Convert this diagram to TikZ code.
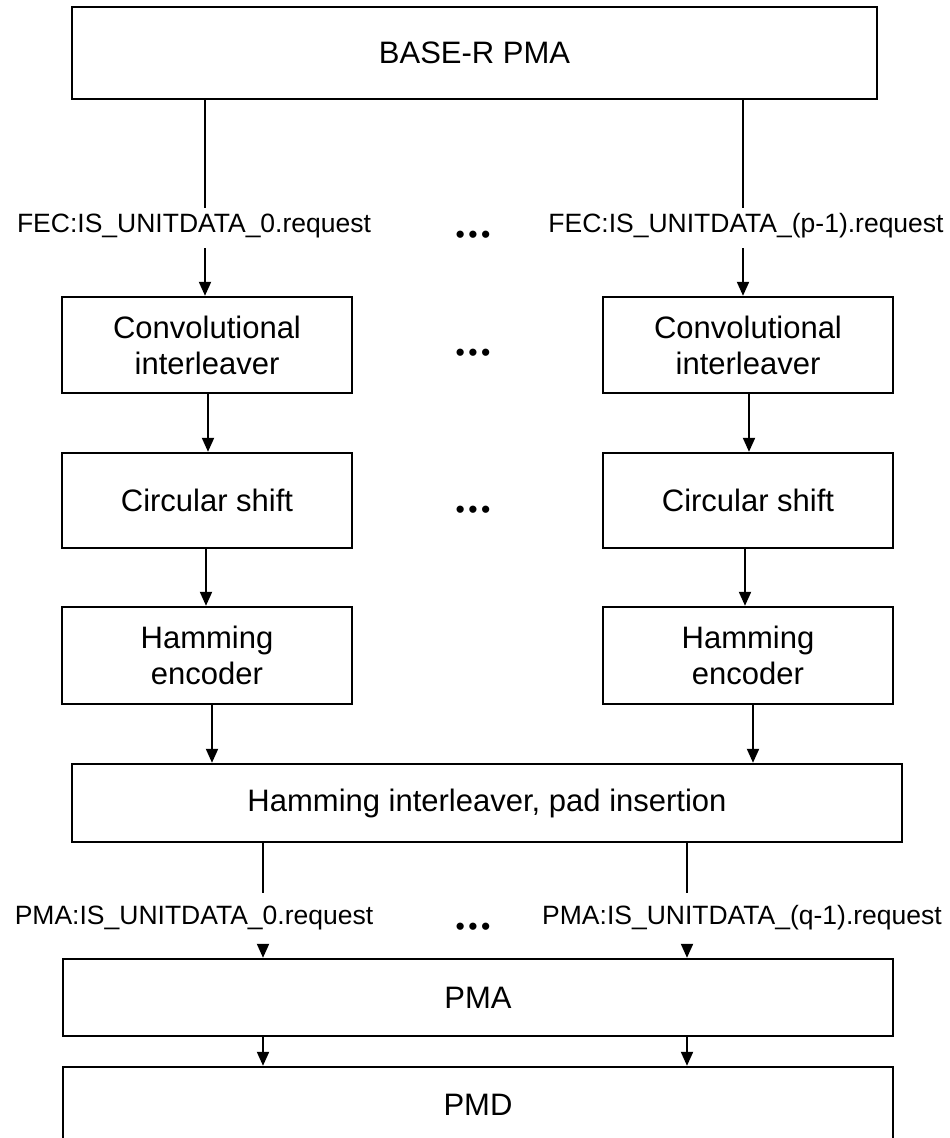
\documentclass[tikz,border=0pt]{standalone}
\usepackage{fontspec}
\setmainfont{Liberation Sans}
\usetikzlibrary{arrows.meta}
\newcommand{\lanedots}{•\hspace{3.4pt}•\hspace{3.4pt}•}
\begin{document}
\begin{tikzpicture}[x=1pt,y=-1pt,
  box/.style={draw, line width=2.4pt, inner sep=0pt, align=center,
    font=\fontsize{31}{36}\selectfont},
  colbox/.style={box, minimum width=290pt},
  lbl/.style={inner sep=0pt, font=\fontsize{26.5}{30}\selectfont},
  dots/.style={inner sep=0pt, anchor=base, font=\fontsize{26.5}{30}\selectfont},
  link/.style={line width=2pt},
  arr/.style={link, -{Triangle[length=14pt,width=12pt]}}]
\useasboundingbox (0,0) rectangle (950,1138);
\clip (0,0) rectangle (950,1138);

% top layer
\node[box, minimum width=805pt, minimum height=92pt] (base) at (474.5,53) {BASE-R PMA};

% service interface labels between the FEC lanes and the BASE-R PMA
\node[lbl] (fec0) at (194,226) {FEC:IS\_UNITDATA\_0.request};
\node[lbl] (fec1) at (746,226) {FEC:IS\_UNITDATA\_(p-1).request};
\node[dots] (d0) at (473,243) {\lanedots};

% per-lane processing chain
\node[colbox, minimum height=96pt] (conv0) at (207,345) {Convolutional\\interleaver};
\node[colbox, minimum height=96pt] (conv1) at (748,345) {Convolutional\\interleaver};
\node[dots] (d1) at (473,361) {\lanedots};

\node[colbox, minimum height=95pt] (circ0) at (207,500.5) {Circular shift};
\node[colbox, minimum height=95pt] (circ1) at (748,500.5) {Circular shift};
\node[dots] (d2) at (473,518) {\lanedots};

\node[colbox, minimum height=97pt] (ham0) at (207,655.5) {Hamming\\encoder};
\node[colbox, minimum height=97pt] (ham1) at (748,655.5) {Hamming\\encoder};

\node[box, minimum width=830pt, minimum height=78pt] (hil) at (487,803) {Hamming interleaver, pad insertion};

% PMA service interface labels
\node[lbl] (pmal0) at (194,918) {PMA:IS\_UNITDATA\_0.request};
\node[lbl] (pmal1) at (742,918) {PMA:IS\_UNITDATA\_(q-1).request};
\node[dots] (d3) at (473,935) {\lanedots};

\node[box, minimum width=830pt, minimum height=77pt] (pma) at (478,997.5) {PMA};
\node[box, minimum width=830pt, minimum height=133pt] (pmd) at (478,1133.5) {};
\node[box, draw=none] (pmdtxt) at (478,1105) {PMD};

% connectors from BASE-R PMA to the lanes
\coordinate (t0) at (205,208);
\coordinate (t1) at (743,208);
\draw[link] (t0 |- base.south) -- (t0);
\draw[link] (t1 |- base.south) -- (t1);
\coordinate (f0) at (205,248);
\coordinate (f1) at (743,248);
\draw[arr] (f0) -- (f0 |- conv0.north);
\draw[arr] (f1) -- (f1 |- conv1.north);

% lane connectors
\coordinate (c0) at ([xshift=1pt]conv0.south);
\coordinate (c1) at ([xshift=1pt]conv1.south);
\coordinate (s0) at ([xshift=-1pt]circ0.south);
\coordinate (s1) at ([xshift=-3pt]circ1.south);
\coordinate (h0) at ([xshift=5pt]ham0.south);
\coordinate (h1) at ([xshift=5pt]ham1.south);
\draw[arr] (c0) -- (c0 |- circ0.north);
\draw[arr] (c1) -- (c1 |- circ1.north);
\draw[arr] (s0) -- (s0 |- ham0.north);
\draw[arr] (s1) -- (s1 |- ham1.north);
\draw[arr] (h0) -- (h0 |- hil.north);
\draw[arr] (h1) -- (h1 |- hil.north);

% connectors to PMA and PMD
\coordinate (l0) at (263,893);
\coordinate (l1) at (687,893);
\draw[link] (l0 |- hil.south) -- (l0);
\draw[link] (l1 |- hil.south) -- (l1);
\coordinate (p0) at (263,944);
\coordinate (p1) at (687,944);
\draw[arr] (p0) -- (p0 |- pma.north);
\draw[arr] (p1) -- (p1 |- pma.north);
\draw[arr] (l0 |- pma.south) -- (l0 |- pmd.north);
\draw[arr] (l1 |- pma.south) -- (l1 |- pmd.north);
\end{tikzpicture}
\end{document}
